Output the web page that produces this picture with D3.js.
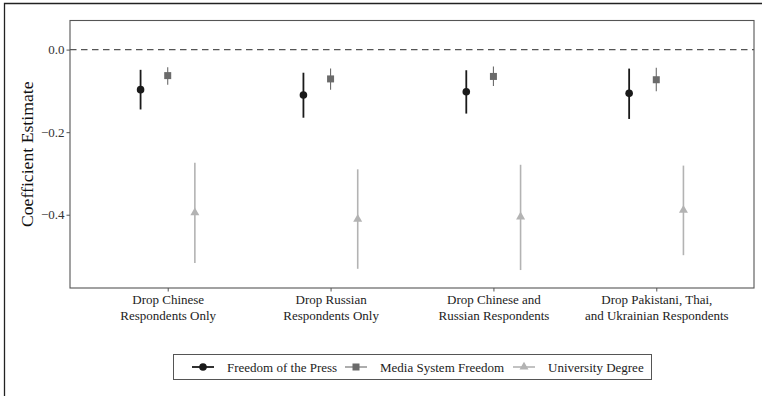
<!DOCTYPE html>
<html>
<head>
<meta charset="utf-8">
<script src="https://cdn.jsdelivr.net/npm/d3@7/dist/d3.min.js"></script>
<style>
  html, body { margin: 0; padding: 0; background: #fff; }
  svg, svg text { font-family: "Liberation Serif", "Times New Roman", Times, "DejaVu Serif", serif; }
</style>
</head>
<body>
<svg id="chart" width="766" height="396"></svg>
<script>
// Model specifications (x-axis categories), two text lines each
const categories = [
  ["Drop Chinese", "Respondents Only"],
  ["Drop Russian", "Respondents Only"],
  ["Drop Chinese and", "Russian Respondents"],
  ["Drop Pakistani, Thai,", "and Ukrainian Respondents"]
];
const seriesNames = ["Freedom of the Press", "Media System Freedom", "University Degree"];

// Point estimates and interval bounds per series (one per category)
const pressEst = [-0.097, -0.110, -0.102, -0.106];
const pressLo  = [-0.145, -0.165, -0.155, -0.168];
const pressHi  = [-0.049, -0.056, -0.050, -0.046];

const mediaEst = [-0.063, -0.071, -0.065, -0.073];
const mediaLo  = [-0.085, -0.097, -0.088, -0.101];
const mediaHi  = [-0.043, -0.046, -0.041, -0.044];

const degreeEst = [-0.395, -0.411, -0.405, -0.389];
const degreeLo  = [-0.517, -0.531, -0.534, -0.498];
const degreeHi  = [-0.274, -0.290, -0.279, -0.281];

const yTicks = [0.0, -0.2, -0.4];

const series = [
  { name: seriesNames[0], est: pressEst, lo: pressLo, hi: pressHi, color: "#1a1a1a", shape: "circle", lw: 1.8 },
  { name: seriesNames[1], est: mediaEst, lo: mediaLo, hi: mediaHi, color: "#6b6b6b", shape: "square", lw: 1.1 },
  { name: seriesNames[2], est: degreeEst, lo: degreeLo, hi: degreeHi, color: "#b3b3b3", shape: "triangle", lw: 1.6 }
];

const FONT = "'Liberation Serif', 'Times New Roman', Times, 'DejaVu Serif', serif";

const svg = d3.select("#chart");
const panel = { left: 70, right: 754, top: 20.5, bottom: 288 };

// Discrete x axis with padding of 0.6 category widths on each side
const xIdx = d3.scaleLinear().domain([0.4, 4.6]).range([panel.left, panel.right]);
const x = i => xIdx(i + 1);
const dodge = 0.5 / 3;

const y = d3.scaleLinear().domain([0.0705, -0.5775]).range([panel.top, panel.bottom]);

// Outer frame
svg.append("path")
  .attr("d", "M4.5,396 V3.5 H762")
  .attr("fill", "none").attr("stroke", "#222").attr("stroke-width", 1.3);

// Panel border
svg.append("rect")
  .attr("x", panel.left).attr("y", panel.top)
  .attr("width", panel.right - panel.left).attr("height", panel.bottom - panel.top)
  .attr("fill", "none").attr("stroke", "#555").attr("stroke-width", 1.1);

// Zero reference line
svg.append("line")
  .attr("x1", panel.left).attr("x2", panel.right)
  .attr("y1", y(0)).attr("y2", y(0))
  .attr("stroke", "#555").attr("stroke-width", 1.4)
  .attr("stroke-dasharray", "6.5,4.5");

// Y axis
const yAxis = d3.axisLeft(y).tickValues(yTicks).tickFormat(d3.format(".1f")).tickSize(3.5).tickPadding(2);
const gy = svg.append("g").attr("transform", `translate(${panel.left},0)`).call(yAxis);
gy.attr("font-family", FONT);
gy.select(".domain").remove();
gy.selectAll(".tick line").attr("stroke", "#555");
gy.selectAll(".tick text")
  .attr("fill", "#333").attr("font-size", 13)
  .style("font-family", FONT)
  .text(d => d3.format(".1f")(d).replace("-", "\u2212"));

// X axis
const xBand = d3.scalePoint().domain(d3.range(categories.length)).range([x(0), x(categories.length - 1)]);
const xAxis = d3.axisBottom(xBand).tickSize(3.5).tickFormat(() => "");
const gx = svg.append("g").attr("transform", `translate(0,${panel.bottom})`).call(xAxis);
gx.attr("font-family", FONT);
gx.select(".domain").remove();
gx.selectAll(".tick line").attr("stroke", "#555");
gx.selectAll(".tick").each(function(d) {
  const t = d3.select(this).append("text")
    .attr("text-anchor", "middle").attr("fill", "#222")
    .attr("font-size", 13).style("font-family", FONT);
  t.append("tspan").attr("x", 0).attr("y", 16).text(categories[d][0]);
  t.append("tspan").attr("x", 0).attr("y", 32).text(categories[d][1]);
});

// Y axis title
svg.append("text")
  .attr("transform", `translate(33,${(panel.top + panel.bottom) / 2}) rotate(-90)`)
  .attr("text-anchor", "middle").attr("font-size", 17.7).attr("fill", "#111")
  .style("font-family", FONT)
  .text("Coefficient Estimate");

function drawShape(g, shape, cx, cy, color) {
  if (shape === "circle") {
    g.append("circle").attr("cx", cx).attr("cy", cy).attr("r", 3.8).attr("fill", color);
  } else if (shape === "square") {
    g.append("rect").attr("x", cx - 3.5).attr("y", cy - 3.5).attr("width", 7).attr("height", 7).attr("fill", color);
  } else {
    const s = 9, h = s * Math.sqrt(3) / 2;
    g.append("path")
      .attr("d", `M${cx},${cy - h * 2 / 3} L${cx + s / 2},${cy + h / 3} L${cx - s / 2},${cy + h / 3} Z`)
      .attr("fill", color);
  }
}

// Error bars and point estimates
series.forEach((s, si) => {
  const g = svg.append("g");
  const off = (si - 1) * dodge;
  s.est.forEach((v, i) => {
    const cx = xIdx(i + 1 + off);
    g.append("line")
      .attr("x1", cx).attr("x2", cx)
      .attr("y1", y(s.lo[i])).attr("y2", y(s.hi[i]))
      .attr("stroke", s.color).attr("stroke-width", s.lw);
    drawShape(g, s.shape, cx, y(v), s.color);
  });
});

// Legend
const legend = svg.append("g");
legend.append("rect")
  .attr("x", 173.5).attr("y", 354.5).attr("width", 478).attr("height", 25)
  .attr("fill", "#fff").attr("stroke", "#555").attr("stroke-width", 1);
const keyX = [192, 345, 513];
series.forEach((s, si) => {
  const kx = keyX[si], ky = 367;
  legend.append("line")
    .attr("x1", kx).attr("x2", kx + 22).attr("y1", ky).attr("y2", ky)
    .attr("stroke", s.color).attr("stroke-width", s.lw);
  drawShape(legend, s.shape, kx + 11, ky, s.color);
  legend.append("text")
    .attr("x", kx + 35).attr("y", ky).attr("dy", "0.35em")
    .attr("font-size", 13).attr("fill", "#222")
    .style("font-family", FONT)
    .text(s.name);
});
</script>
</body>
</html>
